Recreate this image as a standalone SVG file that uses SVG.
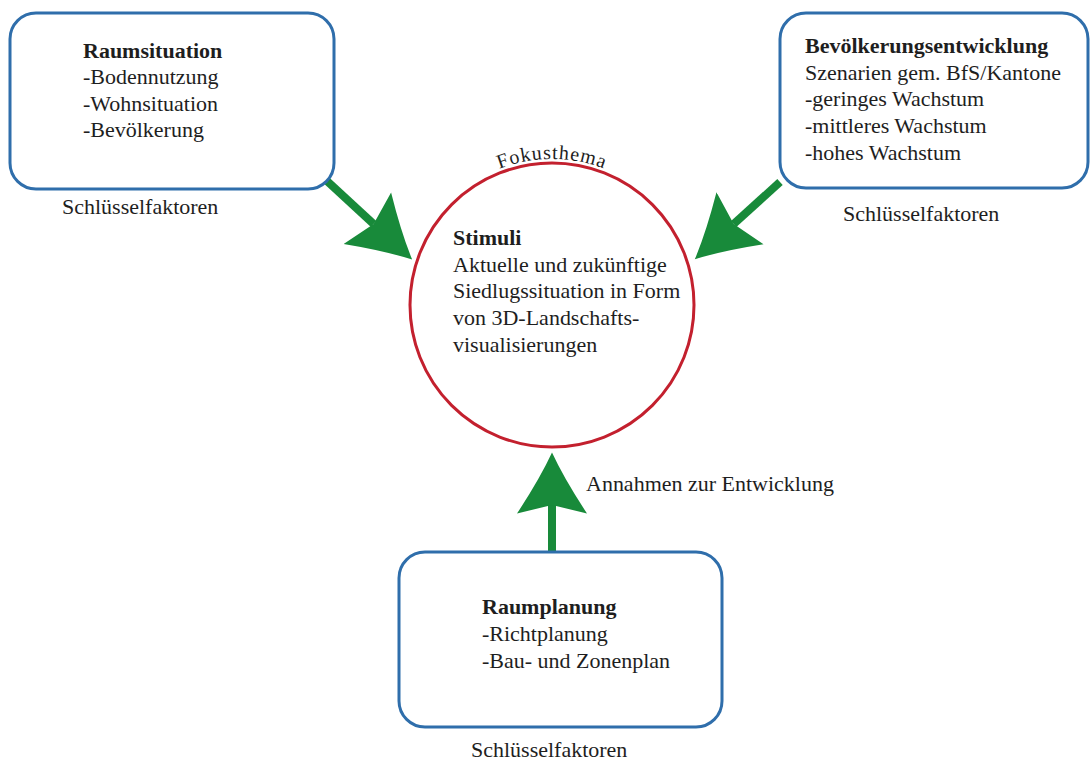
<svg xmlns="http://www.w3.org/2000/svg" width="1091" height="762" viewBox="0 0 1091 762">
<style>
.box{fill:#fff;stroke:#2f6eab;stroke-width:3}
.t{font-family:"Liberation Serif","Times New Roman",serif;font-size:20px;fill:#1e1e1e}
.b{font-weight:bold}
.con{stroke:#188a3a;stroke-width:8;fill:none;marker-end:url(#ah)}
</style>
<defs>
<marker id="ah" markerUnits="userSpaceOnUse" viewBox="0 -36 62 72" refX="8.5" refY="0" markerWidth="62" markerHeight="72" orient="auto">
<path d="M0,-35 Q35,-12 61,0 Q35,12 0,35 L8.5,0 Z" fill="#188a3a"/>
</marker>
<path id="arc" d="M 406,305 A 146 146 0 0 1 698,305"/>
</defs>
<rect width="1091" height="762" fill="#fff"/>
<g id="connectors">
<line class="con" x1="327" y1="181" x2="373.6" y2="224"/>
<line class="con" x1="780" y1="182" x2="733.7" y2="224"/>
<line class="con" x1="552" y1="552" x2="552" y2="505"/>
</g>
<g id="raumsituation">
<rect class="box" x="10" y="13" width="324" height="176" rx="26"/>
<text class="t" transform="matrix(1.1 0 0 1 83 58)"><tspan class="b" x="0" y="0">Raumsituation</tspan><tspan x="0" y="26.5">-Bodennutzung</tspan><tspan x="0" y="53">-Wohnsituation</tspan><tspan x="0" y="79.5">-Bevölkerung</tspan></text>
<text class="t" transform="matrix(1.1 0 0 1 62 214)">Schlüsselfaktoren</text>
</g>
<g id="bevoelkerung">
<rect class="box" x="780" y="13" width="308" height="175" rx="26"/>
<text class="t" transform="matrix(1.1 0 0 1 805 53.3)"><tspan class="b" x="0" y="0">Bevölkerungsentwicklung</tspan><tspan x="0" y="26.6">Szenarien gem. BfS/Kantone</tspan><tspan x="0" y="53.2">-geringes Wachstum</tspan><tspan x="0" y="79.8">-mittleres Wachstum</tspan><tspan x="0" y="106.4">-hohes Wachstum</tspan></text>
<text class="t" transform="matrix(1.1 0 0 1 843 221)">Schlüsselfaktoren</text>
</g>
<g id="stimuli">
<circle cx="552" cy="305" r="142" fill="#fff" stroke="#c3202e" stroke-width="3"/>
<text class="t" letter-spacing="1"><textPath href="#arc" startOffset="50%" text-anchor="middle">Fokusthema</textPath></text>
<text class="t" transform="matrix(1.1 0 0 1 453 245)"><tspan class="b" x="0" y="0">Stimuli</tspan><tspan x="0" y="26.7">Aktuelle und zukünftige</tspan><tspan x="0" y="53.4">Siedlugssituation in Form</tspan><tspan x="0" y="80.1">von 3D-Landschafts-</tspan><tspan x="0" y="106.8">visualisierungen</tspan></text>
</g>
<g id="raumplanung">
<rect class="box" x="399" y="552" width="323" height="175" rx="26"/>
<text class="t" transform="matrix(1.1 0 0 1 482 614)"><tspan class="b" x="0" y="0">Raumplanung</tspan><tspan x="0" y="27">-Richtplanung</tspan><tspan x="0" y="53.7">-Bau- und Zonenplan</tspan></text>
<text class="t" transform="matrix(1.1 0 0 1 471 757)">Schlüsselfaktoren</text>
</g>
<text id="annahmen" class="t" transform="matrix(1.1 0 0 1 586 491)">Annahmen zur Entwicklung</text>
</svg>
